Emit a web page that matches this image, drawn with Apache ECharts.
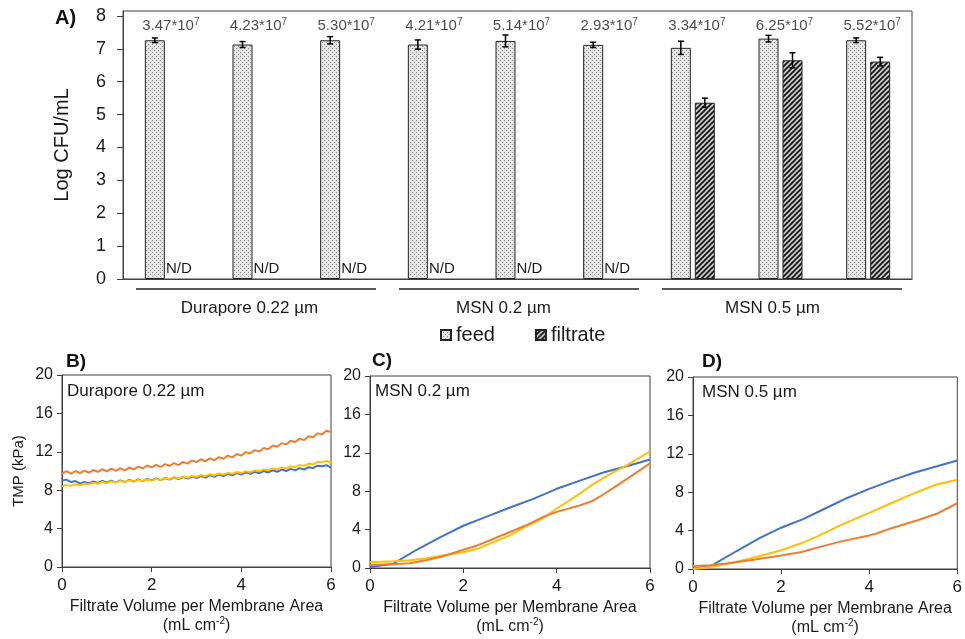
<!DOCTYPE html>
<html>
<head>
<meta charset="utf-8">
<script src="https://cdn.jsdelivr.net/npm/echarts@6/dist/echarts.min.js"></script>
<style>
html,body{margin:0;padding:0;background:#fff;}
#main{width:965px;height:639px;}
</style>
</head>
<body>
<div id="main"></div>
<script>
// panel A - bacteria counts
var cats = ['D-1','D-2','D-3','M02-1','M02-2','M02-3','M05-1','M05-2','M05-3'];
var groups = ['Durapore 0.22 µm','MSN 0.2 µm','MSN 0.5 µm'];
var groupSpans = [[0,2],[3,5],[6,8]];
var feed = [7.26,7.13,7.26,7.13,7.24,7.12,7.03,7.31,7.26];
var feedErr = [0.07,0.09,0.11,0.14,0.18,0.08,0.2,0.1,0.07];
var filtrate = [null,null,null,null,null,null,5.36,6.65,6.61];
var filtrateErr = [0,0,0,0,0,0,0.14,0.23,0.13];
var feedCount = ['3.47','4.23','5.30','4.21','5.14','2.93','3.34','6.25','5.52'];

// panel B - Durapore 0.22
var xB = [0,0.1,0.2,0.3,0.4,0.5,0.6,0.7,0.8,0.9,1,1.1,1.2,1.3,1.4,1.5,1.6,1.7,1.8,1.9,2,
  2.1,2.2,2.3,2.4,2.5,2.6,2.7,2.8,2.9,3,3.1,3.2,3.3,3.4,3.5,3.6,3.7,3.8,3.9,4,
  4.1,4.2,4.3,4.4,4.5,4.6,4.7,4.8,4.9,5,5.1,5.2,5.3,5.4,5.5,5.6,5.7,5.8,5.9,6];
var orangeB = [9.72,9.98,9.73,10.0,9.77,10.03,9.82,10.1,9.92,10.18,9.97,10.24,10.02,10.3,10.07,10.36,10.17,10.46,10.27,10.57,10.37,
  10.64,10.42,10.72,10.52,10.82,10.62,10.95,10.77,11.1,10.92,11.22,11.02,11.32,11.12,11.45,11.27,11.6,11.42,11.77,11.62,
  11.97,11.82,12.17,12.02,12.4,12.27,12.65,12.52,12.9,12.77,13.15,13.02,13.37,13.22,13.62,13.52,13.92,13.82,14.2,14.07];
var blueB = [9.0,9.1,8.85,8.95,8.7,8.85,8.7,8.92,8.75,8.97,8.8,9.0,8.82,9.02,8.85,9.07,8.9,9.12,8.95,9.17,9.02,
  9.22,9.05,9.27,9.1,9.32,9.15,9.37,9.2,9.42,9.27,9.47,9.32,9.54,9.4,9.62,9.47,9.7,9.55,9.78,9.62,
  9.85,9.7,9.92,9.77,10.0,9.85,10.08,9.92,10.15,10.0,10.22,10.07,10.3,10.15,10.4,10.3,10.55,10.5,10.6,10.35];
var yellowB = [8.4,8.55,8.45,8.62,8.52,8.7,8.6,8.78,8.67,8.85,8.75,8.92,8.8,8.97,8.85,9.02,8.9,9.07,8.95,9.12,9.0,
  9.18,9.07,9.26,9.15,9.34,9.22,9.42,9.3,9.5,9.38,9.58,9.46,9.66,9.54,9.74,9.62,9.82,9.7,9.9,9.78,
  9.98,9.87,10.07,9.96,10.17,10.06,10.27,10.16,10.38,10.27,10.5,10.4,10.63,10.53,10.78,10.7,10.95,10.9,11.05,10.85];

// panel C - MSN 0.2
var blueCx = [0,0.5,1,1.5,2,2.5,3,3.5,4,4.5,5,5.5,6];
var blueCy = [0.1,0.45,1.9,3.2,4.4,5.35,6.3,7.2,8.25,9.1,9.95,10.6,11.3];
var yellowCx = [0,0.5,0.85,1.2,1.55,2,2.3,2.65,3,3.35,3.7,4,4.45,4.8,5.15,5.5,6];
var yellowCy = [0.6,0.7,0.8,1.0,1.3,1.65,2.0,2.7,3.4,4.35,5.15,6.2,7.6,8.8,9.8,10.7,12.15];
var orangeCx = [0,0.5,0.85,1.2,1.55,2,2.3,2.65,3,3.35,3.7,4,4.45,4.75,4.93,5.2,5.5,6];
var orangeCy = [0.3,0.4,0.5,0.8,1.2,1.9,2.35,3.05,3.75,4.45,5.3,5.85,6.45,6.95,7.45,8.3,9.25,10.9];

// panel D - MSN 0.5
var blueDx = [0,0.4,1,1.5,2,2.5,3,3.5,4,4.5,5,5.5,6];
var blueDy = [0.05,0.3,1.9,3.2,4.3,5.2,6.3,7.4,8.35,9.2,10.0,10.65,11.3];
var yellowDx = [0,0.4,0.8,1.3,2,2.44,2.8,3.34,4,4.47,5.08,5.53,6];
var yellowDy = [0,0.2,0.55,1.1,1.95,2.65,3.35,4.55,5.85,6.8,8.0,8.8,9.3];
var orangeDx = [0,0.4,0.8,1.3,2,2.44,2.8,3.34,4,4.17,4.47,5.08,5.53,6];
var orangeDy = [0.3,0.4,0.6,0.9,1.4,1.75,2.2,2.85,3.5,3.7,4.2,5.05,5.75,6.85];

var FONT = 'Liberation Sans, Arial, sans-serif';
var AX = '#404040';
var TXT = '#1a1a1a';
var BLUE = '#4472C4', ORANGE = '#ED7D31', YELLOW = '#FFC000';

function makePattern(kind) {
  var c = document.createElement('canvas');
  var ctx = c.getContext('2d');
  if (kind == 'dots') {
    c.width = 4; c.height = 4;
    ctx.fillStyle = '#e4e4e4'; ctx.fillRect(0, 0, 4, 4);
    ctx.fillStyle = '#8a8a8a';
    ctx.fillRect(0, 0, 1, 1); ctx.fillRect(2, 2, 1, 1);
  } else {
    c.width = 5; c.height = 5;
    ctx.fillStyle = '#c8c8c8'; ctx.fillRect(0, 0, 5, 5);
    ctx.strokeStyle = '#111'; ctx.lineWidth = 1.6;
    ctx.beginPath();
    ctx.moveTo(-1, 6); ctx.lineTo(6, -1);
    ctx.moveTo(-1, 1); ctx.lineTo(1, -1);
    ctx.moveTo(4, 6); ctx.lineTo(6, 4);
    ctx.stroke();
  }
  return {image: c, repeat: 'repeat'};
}
var feedPat = makePattern('dots');
var filtPat = makePattern('hatch');

function errSeries(means, errs, off) {
  var d = [];
  for (var i = 0; i < means.length; i++) {
    if (means[i] != null) d.push([i, means[i], errs[i]]);
  }
  return {
    type: 'custom', xAxisIndex: 0, yAxisIndex: 0, z: 5,
    data: d,
    renderItem: function (params, api) {
      var c = api.value(0), v = api.value(1), e = api.value(2);
      var lo = api.coord([c, v - e]), hi = api.coord([c, v + e]);
      var x = lo[0] + off;
      var st = {stroke: '#000', lineWidth: 1.5};
      return {type: 'group', children: [
        {type: 'line', shape: {x1: x, y1: lo[1], x2: x, y2: hi[1]}, style: st},
        {type: 'line', shape: {x1: x - 3, y1: lo[1], x2: x + 3, y2: lo[1]}, style: st},
        {type: 'line', shape: {x1: x - 3, y1: hi[1], x2: x + 3, y2: hi[1]}, style: st}
      ]};
    }
  };
}

function pairs(xs, ys) {
  return xs.map(function (x, i) { return [x, ys[i]]; });
}
function lineS(gi, xs, ys, color) {
  return {
    type: 'line', xAxisIndex: gi, yAxisIndex: gi, data: pairs(xs, ys),
    showSymbol: false, symbol: 'none', lineStyle: {color: color, width: 2},
    itemStyle: {color: color}, silent: true
  };
}

var xName = {
  name: '{a|Filtrate Volume per Membrane Area}\n{a|(mL cm}{s|-2}{a|)}',
  nameLocation: 'middle', nameGap: 30,
  nameTextStyle: {
    rich: {
      a: {fontSize: 16, lineHeight: 19, color: TXT, fontFamily: FONT},
      s: {fontSize: 10, lineHeight: 19, verticalAlign: 'top', color: TXT, fontFamily: FONT}
    }
  }
};

function lineX(gi) {
  return Object.assign({
    type: 'value', gridIndex: gi, min: 0, max: 6, interval: 2,
    axisLine: {show: true, lineStyle: {color: AX, width: 1}},
    axisTick: {show: true, length: 5, lineStyle: {color: AX}},
    axisLabel: {fontSize: 17, color: TXT, margin: 10, fontFamily: FONT},
    splitLine: {show: false}
  }, xName);
}
function lineY(gi, name) {
  return {
    type: 'value', gridIndex: gi, min: 0, max: 20, interval: 4,
    name: name || '', nameLocation: 'middle', nameGap: 36, nameRotate: 90,
    nameTextStyle: {fontSize: 15, color: TXT, fontFamily: FONT},
    axisLine: {show: true, lineStyle: {color: AX, width: 1}},
    axisTick: {show: true, length: 5, lineStyle: {color: AX}},
    axisLabel: {fontSize: 16, color: TXT, margin: 9, fontFamily: FONT},
    splitLine: {show: false}
  };
}

var filtData = filtrate.map(function (v) {
  if (v == null) {
    return {value: 0, itemStyle: {borderWidth: 0},
      label: {show: true, position: 'top', distance: 3, formatter: 'N/D',
        fontSize: 15, color: TXT, fontFamily: FONT}};
  }
  return v;
});

// group captions sit a little left of the group centres in the original
var groupShift = [10, 28, 16];
var groupData = groups.map(function (g, i) {
  return {value: g, textStyle: {padding: [0, groupShift[i], 0, 0]}};
});

var labelY = 7.7;
var option = {
  animation: false,
  textStyle: {fontFamily: FONT},
  title: [
    {text: 'A)', left: 50, top: 3, textStyle: {fontSize: 20, fontWeight: 'bold', color: '#111', fontFamily: FONT}},
    {text: 'B)', left: 61, top: 347, textStyle: {fontSize: 19, fontWeight: 'bold', color: '#111', fontFamily: FONT}},
    {text: 'C)', left: 367, top: 346, textStyle: {fontSize: 19, fontWeight: 'bold', color: '#111', fontFamily: FONT}},
    {text: 'D)', left: 697, top: 347, textStyle: {fontSize: 19, fontWeight: 'bold', color: '#111', fontFamily: FONT}},
    {text: 'Durapore 0.22 µm', left: 62, top: 378, textStyle: {fontSize: 17, fontWeight: 'normal', color: TXT, fontFamily: FONT}},
    {text: 'MSN 0.2 µm', left: 370, top: 378, textStyle: {fontSize: 17, fontWeight: 'normal', color: TXT, fontFamily: FONT}},
    {text: 'MSN 0.5 µm', left: 697, top: 379, textStyle: {fontSize: 17, fontWeight: 'normal', color: TXT, fontFamily: FONT}}
  ],
  legend: {
    data: ['feed', 'filtrate'], left: 435, top: 320, itemWidth: 10, itemHeight: 10,
    itemGap: 40, icon: 'rect',
    textStyle: {fontSize: 20, color: TXT, fontFamily: FONT}
  },
  grid: [
    {left: 123, top: 11, width: 789, height: 268, show: true, borderColor: AX, borderWidth: 1},
    {left: 62, top: 375, width: 269, height: 192, show: true, borderColor: AX, borderWidth: 1},
    {left: 370, top: 376, width: 280, height: 192, show: true, borderColor: AX, borderWidth: 1},
    {left: 693, top: 377, width: 266, height: 192, show: true, borderColor: AX, borderWidth: 1}
  ],
  xAxis: [
    {type: 'category', gridIndex: 0, data: cats,
      axisLine: {show: true, lineStyle: {color: AX}}, axisTick: {show: false}, axisLabel: {show: false}},
    lineX(1), lineX(2), lineX(3),
    {type: 'category', gridIndex: 0, data: groupData, position: 'bottom',
      axisLine: {show: false}, axisTick: {show: false},
      axisLabel: {fontSize: 17, color: TXT, margin: 21, fontFamily: FONT}}
  ],
  yAxis: [
    {type: 'value', gridIndex: 0, min: 0, max: 8.15, interval: 1,
      name: 'Log CFU/mL', nameLocation: 'middle', nameGap: 51, nameRotate: 90,
      nameTextStyle: {fontSize: 20, color: TXT, fontFamily: FONT},
      axisLine: {show: true, lineStyle: {color: AX}},
      axisTick: {show: true, length: 6, lineStyle: {color: AX}},
      axisLabel: {fontSize: 18, color: TXT, margin: 17, showMaxLabel: false, fontFamily: FONT},
      splitLine: {show: false}},
    lineY(1, 'TMP (kPa)'), lineY(2), lineY(3)
  ],
  series: [
    {name: 'feed', type: 'bar', xAxisIndex: 0, yAxisIndex: 0, data: feed,
      barWidth: 20, barGap: '20%',
      itemStyle: {color: feedPat, borderColor: '#222', borderWidth: 1}},
    {name: 'filtrate', type: 'bar', xAxisIndex: 0, yAxisIndex: 0, data: filtData,
      barWidth: 20, barGap: '20%',
      itemStyle: {color: filtPat, borderColor: '#222', borderWidth: 1}},
    errSeries(feed, feedErr, -12),
    errSeries(filtrate, filtrateErr, 12),
    {type: 'scatter', xAxisIndex: 0, yAxisIndex: 0, symbolSize: 1, silent: true,
      itemStyle: {color: 'rgba(0,0,0,0)'},
      data: feedCount.map(function (t, i) { return [i, labelY]; }),
      label: {show: true, position: 'inside', offset: [4, 0],
        formatter: function (p) { return '{a|' + feedCount[p.dataIndex] + '*10}{s|7}'; },
        rich: {
          a: {fontSize: 15, color: TXT, fontFamily: FONT, lineHeight: 18},
          s: {fontSize: 10, color: TXT, fontFamily: FONT, lineHeight: 18, verticalAlign: 'top'}
        }}},
    {type: 'custom', xAxisIndex: 0, yAxisIndex: 0, clip: false, silent: true,
      data: groupSpans,
      renderItem: function (params, api) {
        var a = api.coord([api.value(0), 0]), b = api.coord([api.value(1), 0]);
        var band = api.size([1, 0])[0];
        var y = a[1] + 10;
        return {type: 'line', shape: {x1: a[0] - band / 2 + 13, y1: y, x2: b[0] + band / 2 - 10, y2: y},
          style: {stroke: '#222', lineWidth: 1.3}};
      }},
    lineS(1, xB, blueB, BLUE), lineS(1, xB, yellowB, YELLOW), lineS(1, xB, orangeB, ORANGE),
    lineS(2, blueCx, blueCy, BLUE), lineS(2, yellowCx, yellowCy, YELLOW), lineS(2, orangeCx, orangeCy, ORANGE),
    lineS(3, blueDx, blueDy, BLUE), lineS(3, yellowDx, yellowDy, YELLOW), lineS(3, orangeDx, orangeDy, ORANGE)
  ]
};

var myChart = echarts.init(document.getElementById('main'), null, {renderer: 'canvas'});
myChart.setOption(option);
</script>
</body>
</html>
